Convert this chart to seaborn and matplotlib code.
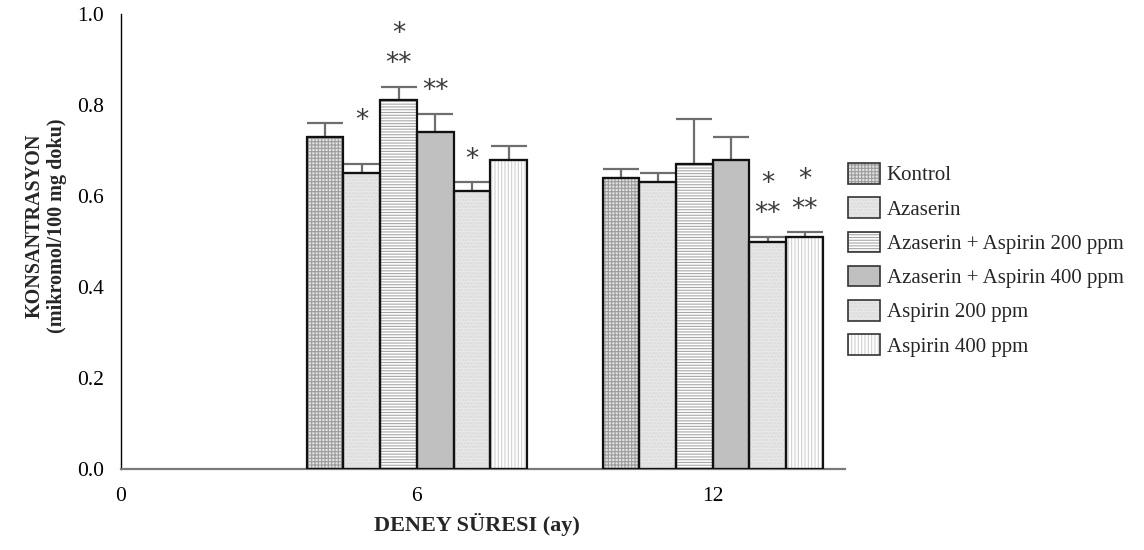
import numpy as np
import pandas as pd
import matplotlib
matplotlib.use("Agg")
import matplotlib.pyplot as plt
from matplotlib.patches import Rectangle, Patch
import seaborn as sns

# ---- data -------------------------------------------------------------
periods = ["0", "6", "12"]
groups = [
    "Kontrol",
    "Azaserin",
    "Azaserin + Aspirin 200 ppm",
    "Azaserin + Aspirin 400 ppm",
    "Aspirin 200 ppm",
    "Aspirin 400 ppm",
]
mean_6 = [0.73, 0.65, 0.81, 0.74, 0.61, 0.68]
err_6 = [0.03, 0.02, 0.03, 0.04, 0.02, 0.03]
mean_12 = [0.64, 0.63, 0.67, 0.68, 0.50, 0.51]
err_12 = [0.02, 0.02, 0.10, 0.05, 0.01, 0.01]

# significance marks, listed top line first
sig_marks = [
    ("6", "Azaserin", ["*"]),
    ("6", "Azaserin + Aspirin 200 ppm", ["*", "**"]),
    ("6", "Azaserin + Aspirin 400 ppm", ["**"]),
    ("6", "Aspirin 200 ppm", ["*"]),
    ("12", "Aspirin 200 ppm", ["*", "**"]),
    ("12", "Aspirin 400 ppm", ["*", "**"]),
]

rows = []
for per, means, errs in (("6", mean_6, err_6), ("12", mean_12, err_12)):
    for g, m, e in zip(groups, means, errs):
        rows.append((per, g, m, e))
df = pd.DataFrame(rows, columns=["period", "group", "value", "err"])

# ---- styling ----------------------------------------------------------
sns.set_theme(style="white")
plt.rcParams["font.family"] = ["Liberation Serif", "DejaVu Serif"]
plt.rcParams["hatch.linewidth"] = 0.8

# face colour, hatch pattern, hatch colour
fills = {
    "Kontrol": ("#e2e2e2", "+++++", "#9c9c9c"),
    "Azaserin": ("#e9e9e9", "ooooo", "#dedede"),
    "Azaserin + Aspirin 200 ppm": ("#ffffff", "------", "#a8a8a8"),
    "Azaserin + Aspirin 400 ppm": ("#c0c0c0", "", "#c0c0c0"),
    "Aspirin 200 ppm": ("#e9e9e9", "ooooo", "#dedede"),
    "Aspirin 400 ppm": ("#ffffff", "|||||", "#cfcfcf"),
}

fig = plt.figure(figsize=(11.44, 5.5), dpi=100)
ax = fig.add_axes([121 / 1144, 1 - 469 / 550, 724 / 1144, 455 / 550])

sns.barplot(
    data=df, x="period", y="value", hue="group",
    order=periods, hue_order=groups,
    palette={g: fills[g][0] for g in groups},
    saturation=1, width=0.745, errorbar=None, legend=False, ax=ax,
)

# hatch each bar in grey, then outline it in black and add an upper error bar
lookup = {(r.period, r.group): r for r in df.itertuples()}
bar_geom = {}
for g, cont in zip(groups, ax.containers):
    face, hatch, hcol = fills[g]
    for p in cont.patches:
        xc = p.get_x() + p.get_width() / 2
        per = periods[int(round(xc))]
        p.set_facecolor(face)
        p.set_hatch(hatch)
        p.set_edgecolor(hcol)
        p.set_linewidth(0)
        ax.add_patch(Rectangle((p.get_x(), p.get_y()), p.get_width(), p.get_height(),
                               fill=False, edgecolor="#111111", linewidth=1.6, zorder=3))
        r = lookup[(per, g)]
        ax.errorbar(xc, r.value, yerr=[[0], [r.err]], fmt="none", ecolor="#6e6e6e",
                    elinewidth=1.6, capsize=13, capthick=1.6, zorder=2.5)
        bar_geom[(per, g)] = (xc, r.value + r.err)

# significance stars above the error bars
lift = {("6", "Azaserin"): 0.095}
for per, g, lines in sig_marks:
    xc, top = bar_geom[(per, g)]
    y = top + lift.get((per, g), 0.05)
    for txt in reversed(lines):
        ax.text(xc, y, txt, ha="center", va="center", fontsize=19,
                color="#3a3a3a", family="DejaVu Sans")
        y += 0.066

# ---- axes -------------------------------------------------------------
ax.set_xlim(0, 2.447)
ax.set_ylim(0, 1.0)
ax.set_yticks(np.arange(0, 1.01, 0.2))
ax.set_yticklabels([f"{v:.1f}" for v in np.arange(0, 1.01, 0.2)])
ax.tick_params(axis="both", length=0, labelsize=15.5, colors="#000000")
ax.tick_params(axis="y", pad=12)
ax.tick_params(axis="x", pad=13)
for s in ("top", "right"):
    ax.spines[s].set_visible(False)
ax.spines["left"].set_color("#000000")
ax.spines["left"].set_linewidth(1.0)
ax.spines["bottom"].set_color("#7a7a7a")
ax.spines["bottom"].set_linewidth(1.6)

ax.set_xlabel("DENEY SÜRESI (ay)", fontsize=16, fontweight="bold", labelpad=5)
ax.xaxis.label.set_x(0.4917)
ax.set_ylabel("KONSANTRASYON\n(mikromol/100 mg doku)", fontsize=14.5,
              fontweight="bold", linespacing=1.15)
ax.yaxis.set_label_coords(-0.074, 0.535)

# legend: hatched swatch overlaid with a dark outline
handles = []
for g in groups:
    face, hatch, hcol = fills[g]
    h1 = Patch(facecolor=face, hatch=hatch, edgecolor=hcol, linewidth=0)
    h2 = Patch(fill=False, edgecolor="#333333", linewidth=1.2)
    handles.append((h1, h2))
fig.legend(handles, groups, loc="upper left", bbox_to_anchor=(848 / 1144, 1 - 163 / 550),
           frameon=False, fontsize=15, handlelength=1.55, handleheight=1.15,
           labelspacing=0.57, handletextpad=0.3, borderpad=0, borderaxespad=0)

fig.savefig("out.png", dpi=100)
